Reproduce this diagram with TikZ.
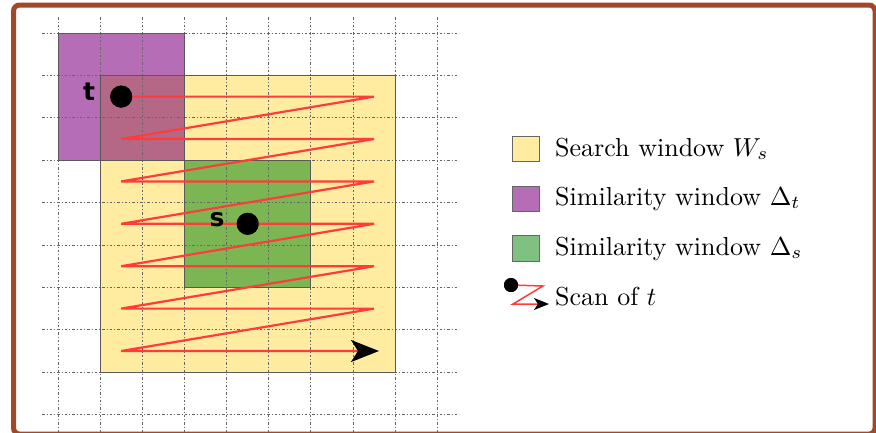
\documentclass[tikz,border=0pt]{standalone}
\usepackage{fontspec}
\newfontfamily\labfont{DejaVu Sans}
\usetikzlibrary{arrows.meta}
\definecolor{framec}{RGB}{160,72,40}
\definecolor{ywin}{RGB}{255,236,160}
\definecolor{pwin}{RGB}{181,110,181}
\definecolor{pover}{RGB}{180,104,134}
\definecolor{gwin}{RGB}{124,182,82}
\definecolor{glegend}{RGB}{128,192,128}
\definecolor{scanc}{RGB}{255,60,60}
\newcommand{\legtxt}[1]{\scalebox{2.6}{\fontsize{10}{12}\selectfont #1}}
\tikzset{
  gridline/.style={draw=black!60, line width=0.9pt, dash pattern=on 2.5pt off 2pt on 1pt off 2pt},
  winborder/.style={draw=black!65, line width=0.9pt},
  scanline/.style={draw=scanc, line width=2.2pt, line join=miter},
  legendbox/.style={draw=black!60, line width=0.8pt},
  legendtext/.style={anchor=base west, inner sep=0pt},
  dotnode/.style={circle, fill=black, inner sep=0pt},
  lab/.style={inner sep=0pt, font=\labfont\bfseries\fontsize{25}{25}\selectfont}
}
\begin{document}
\begin{tikzpicture}[x=1pt,y=-1pt]
\useasboundingbox (0,0) rectangle (876,432);
\clip (0,0) rectangle (876,432);
\fill[white] (0,0) rectangle (876,432);
% windows
\fill[pwin] (58,33) rectangle (184.45,160.2);
\fill[ywin] (100.15,75.4) rectangle (395.2,372.2);
\fill[pover] (100.15,75.4) rectangle (184.45,160.2);
\fill[gwin] (184.45,160.2) rectangle (310.9,287.4);
% grid
\foreach \i in {0,...,9}{
  \draw[gridline] ({58+42.15*\i},17) -- ({58+42.15*\i},432);
  \draw[gridline] (42,{33+42.4*\i}) -- (458,{33+42.4*\i});
}
% borders
\draw[winborder] (58,33) rectangle (184.45,160.2);
\draw[winborder] (100.15,75.4) rectangle (395.2,372.2);
\draw[winborder] (184.45,160.2) rectangle (310.9,287.4);
% dots
\node[dotnode, minimum size=22pt] (tdot) at (121.2,96.6) {};
\node[dotnode, minimum size=22pt] (sdot) at (247.7,223.8) {};
\coordinate (e1) at (374.1,96.6);
\coordinate (l2) at (121.2,139);   \coordinate (e2) at (374.1,139);
\coordinate (l3) at (121.2,181.4); \coordinate (e3) at (374.1,181.4);
\coordinate (l4) at (121.2,223.8); \coordinate (e4) at (374.1,223.8);
\coordinate (l5) at (121.2,266.2); \coordinate (e5) at (374.1,266.2);
\coordinate (l6) at (121.2,308.6); \coordinate (e6) at (374.1,308.6);
\coordinate (l7) at (121.2,351);   \coordinate (end) at (379,351);
% scan
\draw[scanline, -{Stealth[length=28pt,width=22pt,inset=7pt,black]}]
  (tdot.center) -- (e1) -- (l2) -- (e2) -- (l3) -- (e3) -- (l4) -- (e4) -- (l5) -- (e5) -- (l6) -- (e6) -- (l7) -- (end);
\node[dotnode, minimum size=22pt] at (tdot.center) {};
\node[dotnode, minimum size=22pt] at (sdot.center) {};
% labels
\node[lab] (tlab) at (89,92) {t};
\node[lab] (slab) at (217,220) {s};
% legend
\draw[legendbox, fill=ywin] (512,136) rectangle (539,161);
\draw[legendbox, fill=pwin] (512,186) rectangle (539,211);
\draw[legendbox, fill=glegend] (512,235) rectangle (539,261);
\node[legendtext] (lw) at (555,156) {\legtxt{Search window $W_s$}};
\node[legendtext] (lt) at (555,205) {\legtxt{Similarity window $\Delta_t$}};
\node[legendtext] (ls) at (555,255) {\legtxt{Similarity window $\Delta_s$}};
\node[legendtext] (lscan) at (555,305) {\legtxt{Scan of $t$}};
\node[dotnode, minimum size=14pt] (ldot) at (511,285) {};
\coordinate (lc1) at (543,286);
\coordinate (lc2) at (513,304);
\coordinate (lc3) at (549,304);
\draw[draw=scanc, line width=1.5pt, -{Stealth[length=15pt,width=12pt,inset=4pt,black]}]
  (ldot.center) -- (lc1) -- (lc2) -- (lc3);
\node[dotnode, minimum size=14pt] at (ldot.center) {};
% frame
\draw[framec, line width=5pt, rounded corners=6pt] (13.5,5) rectangle (875,434);
\end{tikzpicture}
\end{document}
